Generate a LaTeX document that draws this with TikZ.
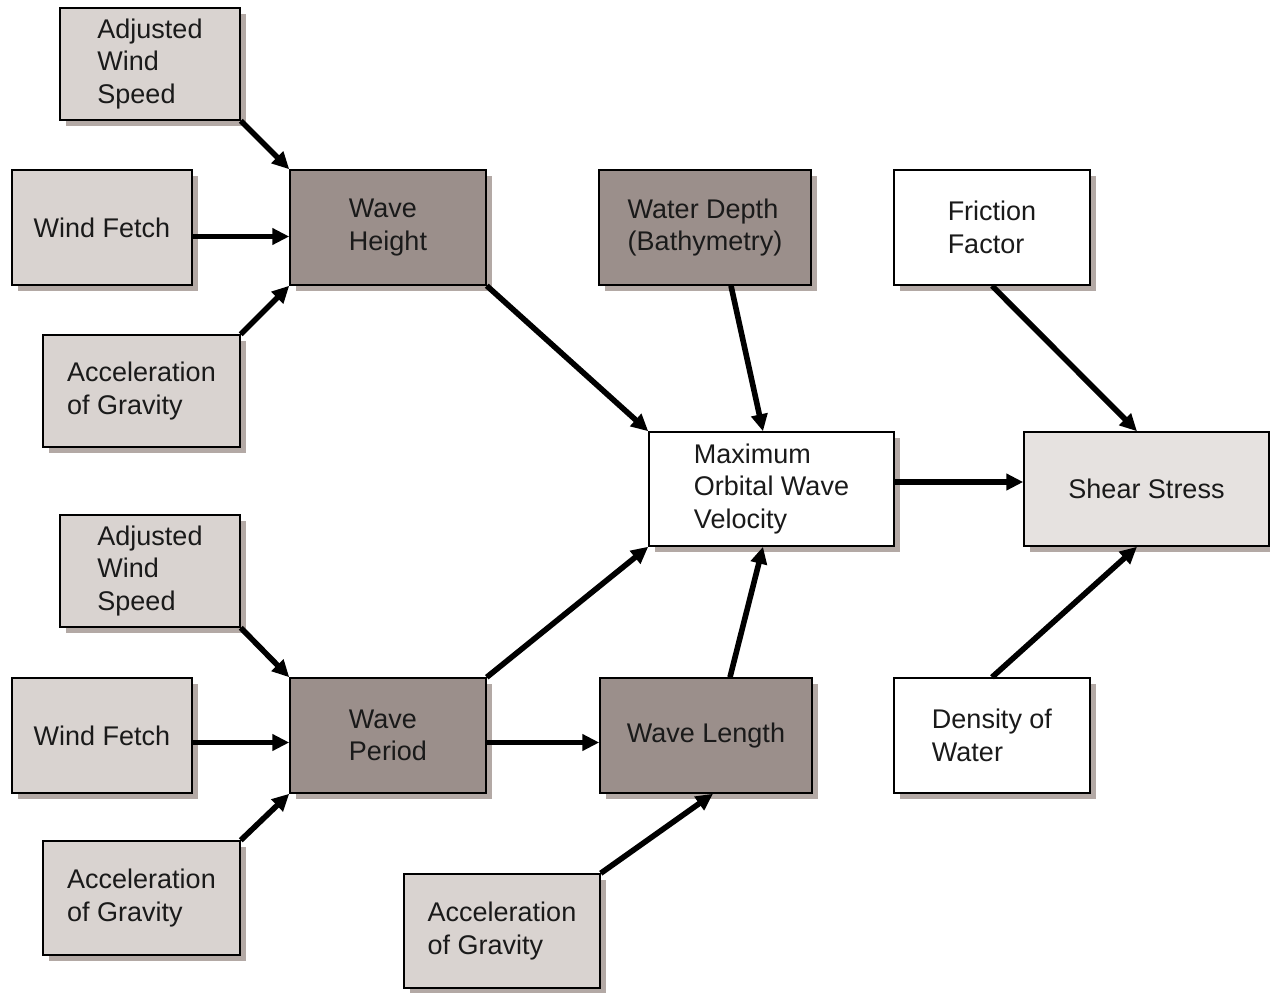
\documentclass[tikz,border=0pt]{standalone}
\usepackage{fontspec}
\setmainfont{Liberation Sans}
\usetikzlibrary{shadows,arrows.meta,calc}
\definecolor{lightc}{HTML}{D9D3D0}
\definecolor{darkc}{HTML}{9B8F8B}
\definecolor{paleC}{HTML}{E6E2E0}
\definecolor{shadowc}{HTML}{B3A9A5}
\definecolor{txt}{HTML}{1A1A1A}
\tikzset{
  box/.style={draw=black, line width=1.5pt, align=left, text=txt,
    font=\fontsize{27}{32.5}\selectfont, inner sep=0pt,
    drop shadow={shadow xshift=6pt, shadow yshift=-6pt, fill=shadowc, opacity=1}},
  lightbox/.style={box, fill=lightc},
  darkbox/.style={box, fill=darkc},
  whitebox/.style={box, fill=white},
  palebox/.style={box, fill=paleC},
  arr/.style={line width=5.6pt, -{Triangle[length=17pt,width=16pt]}},
}
\begin{document}
\begin{tikzpicture}[x=1pt,y=1pt]
\useasboundingbox (0,0) rectangle (1270,-993);
% top group
\node[lightbox, minimum width=180pt, minimum height=112pt] (aws1) at (150,-64) {Adjusted\\Wind\\Speed};
\node[lightbox, minimum width=180pt, minimum height=115pt] (wf1) at (102,-227.5) {Wind Fetch};
\node[lightbox, minimum width=197pt, minimum height=112pt] (ag1) at (141.5,-391) {Acceleration\\of Gravity};
\node[darkbox, minimum width=196pt, minimum height=115pt] (wh) at (388,-227.5) {Wave\\Height};
\node[darkbox, minimum width=212pt, minimum height=115pt] (wd) at (705,-227.5) {Water Depth\\(Bathymetry)};
\node[whitebox, minimum width=196pt, minimum height=115pt] (ff) at (992,-227.5) {Friction\\Factor};
\node[whitebox, minimum width=245pt, minimum height=114pt] (mo) at (771.5,-489) {Maximum\\Orbital Wave\\Velocity};
\node[palebox, minimum width=245pt, minimum height=114pt] (ss) at (1146.5,-489) {Shear Stress};
% bottom group
\node[lightbox, minimum width=180pt, minimum height=112pt] (aws2) at (150,-571) {Adjusted\\Wind\\Speed};
\node[lightbox, minimum width=180pt, minimum height=115pt] (wf2) at (102,-735.5) {Wind Fetch};
\node[lightbox, minimum width=197pt, minimum height=114pt] (ag2) at (141.5,-898) {Acceleration\\of Gravity};
\node[darkbox, minimum width=196pt, minimum height=115pt] (wp) at (388,-735.5) {Wave\\Period};
\node[darkbox, minimum width=212pt, minimum height=115pt] (wl) at (706,-735.5) {Wave Length};
\node[lightbox, minimum width=196pt, minimum height=114pt] (ag3) at (502,-931) {Acceleration\\of Gravity};
\node[whitebox, minimum width=196pt, minimum height=115pt] (dw) at (992,-735.5) {Density of\\Water};
% connectors
\draw[arr] (aws1.south east) -- (wh.north west);
\draw[arr] ($(wf1.east)+(0,-9)$) -- ($(wh.west)+(0,-9)$);
\draw[arr] (ag1.north east) -- (wh.south west);
\draw[arr] (wh.south east) -- (mo.north west);
\draw[arr] ($(wd.south)+(26,0)$) -- ($(mo.north)+(-8.5,0)$);
\draw[arr] (ff.south) -- ($(ss.north)+(-9.5,0)$);
\draw[arr] ($(mo.east)+(0,7)$) -- ($(ss.west)+(0,7)$);
\draw[arr] (dw.north) -- ($(ss.south)+(-9.5,0)$);
\draw[arr] (aws2.south east) -- (wp.north west);
\draw[arr] ($(wf2.east)+(0,-7)$) -- ($(wp.west)+(0,-7)$);
\draw[arr] (ag2.north east) -- (wp.south west);
\draw[arr] (wp.north east) -- (mo.south west);
\draw[arr] ($(wp.east)+(0,-7)$) -- ($(wl.west)+(0,-7)$);
\draw[arr] ($(wl.north)+(24,0)$) -- ($(mo.south)+(-8.5,0)$);
\draw[arr] (ag3.north east) -- ($(wl.south)+(7,0)$);
\end{tikzpicture}
\end{document}
